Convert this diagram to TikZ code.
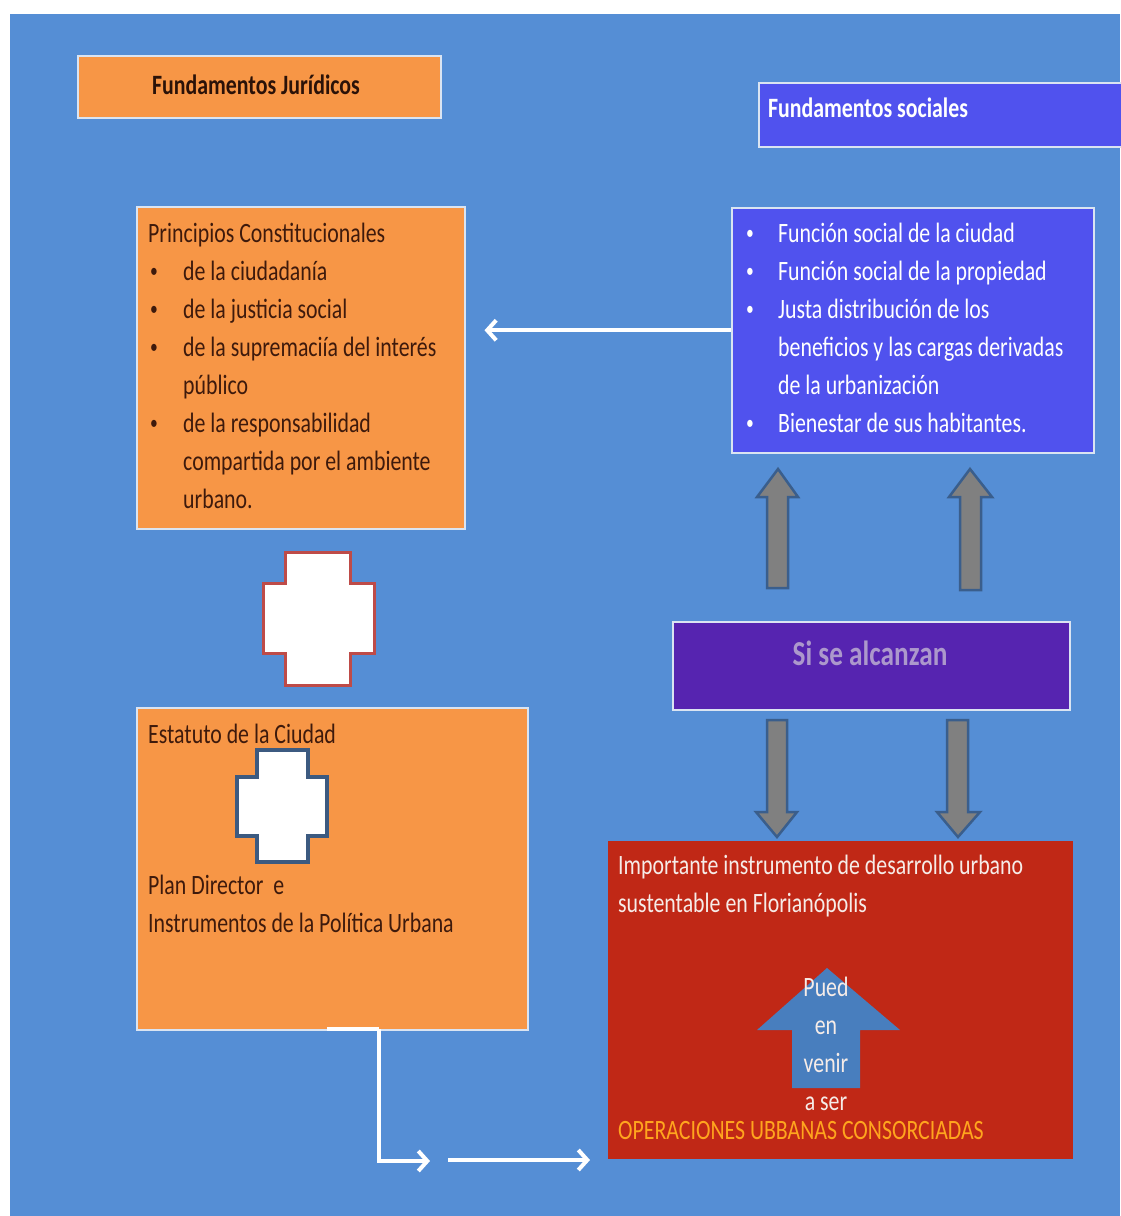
\documentclass[tikz,border=0pt]{standalone}
\usepackage{fontspec}
\setmainfont{Carlito}[FakeStretch=0.78]
\usetikzlibrary{arrows.meta}
\definecolor{bgblue}{RGB}{85,142,213}
\definecolor{orng}{RGB}{247,150,70}
\definecolor{socblue}{RGB}{80,82,238}
\definecolor{purp}{RGB}{86,36,176}
\definecolor{purptext}{RGB}{172,152,204}
\definecolor{redbox}{RGB}{192,40,22}
\definecolor{brown}{RGB}{62,26,12}
\definecolor{boxline}{RGB}{218,228,242}
\definecolor{garrfill}{RGB}{128,128,128}
\definecolor{garredge}{RGB}{58,94,140}
\definecolor{crossred}{RGB}{190,75,72}
\definecolor{crossblue}{RGB}{60,90,128}
\definecolor{uparrow}{RGB}{72,126,190}
\definecolor{optext}{RGB}{255,165,30}
\definecolor{lighttext}{RGB}{246,236,232}
\newcommand{\mybul}{\raisebox{0.12em}{\fontsize{20}{20}\selectfont\textbullet}}
\newcommand{\myb}{\makebox[35pt][l]{\hspace*{2pt}\mybul}}
\newcommand{\myi}{\hspace*{35pt}}
\newcommand{\mybs}{\makebox[33pt][l]{\hspace*{1pt}\mybul}}
\newcommand{\myis}{\hspace*{33pt}}
\begin{document}
\begin{tikzpicture}[x=1pt,y=-1pt,
  box/.style={draw=boxline, line width=1.5pt, inner sep=0pt, anchor=north west},
  txt/.style={inner sep=0pt, align=left, font=\fontsize{28}{38}\selectfont},
  hdr/.style={inner sep=0pt, font=\fontsize{28}{34}\selectfont\bfseries},
  warrow/.style={draw=white, line width=4pt, -{Straight Barb[length=9pt,width=20pt]}},
  wline/.style={draw=white, line width=4pt},
  garrow/.style={fill=garrfill, draw=garredge, line width=2.5pt, line join=miter},
  crossR/.style={fill=white, draw=crossred, line width=3pt, line join=miter},
  crossB/.style={fill=white, draw=crossblue, line width=4pt, line join=miter}]
\useasboundingbox (0,0) rectangle (1120,1216);
\fill[white] (0,0) rectangle (1120,1216);
\fill[bgblue] (10,14) rectangle (1120,1216);

% header boxes
\node[box, fill=orng, minimum width=363pt, minimum height=62pt] (fj) at (77,55) {};
\node[hdr, text=brown!70!black] (fjt) at (256,85) {Fundamentos Jurídicos};
\node[box, fill=socblue, minimum width=366pt, minimum height=64pt] (fs) at (758,82) {};
\node[hdr, text=white, anchor=west] (fst) at (768,108) {Fundamentos sociales};

% Principios box
\node[box, fill=orng, minimum width=328pt, minimum height=322pt] (pc) at (136,206) {};
\node[txt, text=brown, anchor=west] (pct) at (148,366) {Principios Constitucionales\\
\myb de la ciudadanía\\
\myb de la justicia social\\
\myb de la supremaciía del interés\\
\myi público\\
\myb de la responsabilidad\\
\myi compartida por el ambiente\\
\myi urbano.};

% social box
\node[box, fill=socblue, minimum width=362pt, minimum height=245pt] (soc) at (731,207) {};
\node[txt, text=white, anchor=west] (soct) at (745,328) {\mybs Función social de la ciudad\\
\mybs Función social de la propiedad\\
\mybs Justa distribución de los\\
\myis beneficios y las cargas derivadas\\
\myis de la urbanización\\
\mybs Bienestar de sus habitantes.};

\draw[warrow] (soc.west) -- ([xshift=19pt]pc.east |- soc.west);

% red cross
\draw[crossR] (285,552) -- (350,552) -- (350,583) -- (374,583) -- (374,653) -- (350,653)
  -- (350,685) -- (285,685) -- (285,653) -- (263,653) -- (263,583) -- (285,583) -- cycle;

% Estatuto box
\node[box, fill=orng, minimum width=391pt, minimum height=322pt] (est) at (136,707) {};
\node[txt, text=brown, anchor=west] (estt) at (148,734) {Estatuto de la Ciudad};
\draw[crossB] (257,750) -- (308,750) -- (308,777) -- (327,777) -- (327,836) -- (308,836)
  -- (308,862) -- (257,862) -- (257,836) -- (237,836) -- (237,777) -- (257,777) -- cycle;
\node[txt, text=brown, anchor=west] (plt) at (148,904) {Plan Director~ e\\Instrumentos de la Política Urbana};

% Si se alcanzan
\node[box, fill=purp, minimum width=397pt, minimum height=88pt] (si) at (672,621) {};
\node[inner sep=0pt, text=purptext, font=\fontsize{35}{40}\selectfont\bfseries] (sit) at (870,653) {Si se alcanzan};

% gray arrows up
\draw[garrow] (767,588) -- (767,497) -- (757,497) -- (778,469) -- (798,497) -- (788,497) -- (788,588) -- cycle;
\draw[garrow] (960,590) -- (960,497) -- (949,497) -- (970,469) -- (992,497) -- (981,497) -- (981,590) -- cycle;
% gray arrows down
\draw[garrow] (767,720) -- (787,720) -- (787,812) -- (797,812) -- (777,837) -- (756,812) -- (767,812) -- cycle;
\draw[garrow] (947,720) -- (968,720) -- (968,812) -- (980,812) -- (958,837) -- (937,812) -- (947,812) -- cycle;

% red box
\node[box, draw=none, fill=redbox, minimum width=465pt, minimum height=318pt] (red) at (607,840) {};
\node[txt, text=lighttext, anchor=west] (redt) at (618,886) {Importante instrumento de desarrollo urbano\\sustentable en Florianópolis};
\fill[uparrow] (792,1088) -- (792,1030) -- (757,1030) -- (827,968) -- (900,1030) -- (860,1030) -- (860,1088) -- cycle;
\node[txt, align=center, text=lighttext] (pued) at (826,1044) {Pued\\en\\venir\\a ser};
\node[txt, text=optext, anchor=west] (ops) at (618,1131) {OPERACIONES UBBANAS CONSORCIADAS};

% elbow connectors
\coordinate (e0) at (327,1029);
\coordinate (e1) at (379,1029);
\coordinate (e2) at (379,1161);
\coordinate (e3) at (430,1161);
\draw[wline] (e0) -- (e1);
\draw[warrow] (e1) -- (e2) -- (e3);
\coordinate (f0) at (448,1160);
\draw[warrow] (f0) -- ([xshift=-17pt]red.west |- f0);
\end{tikzpicture}
\end{document}
